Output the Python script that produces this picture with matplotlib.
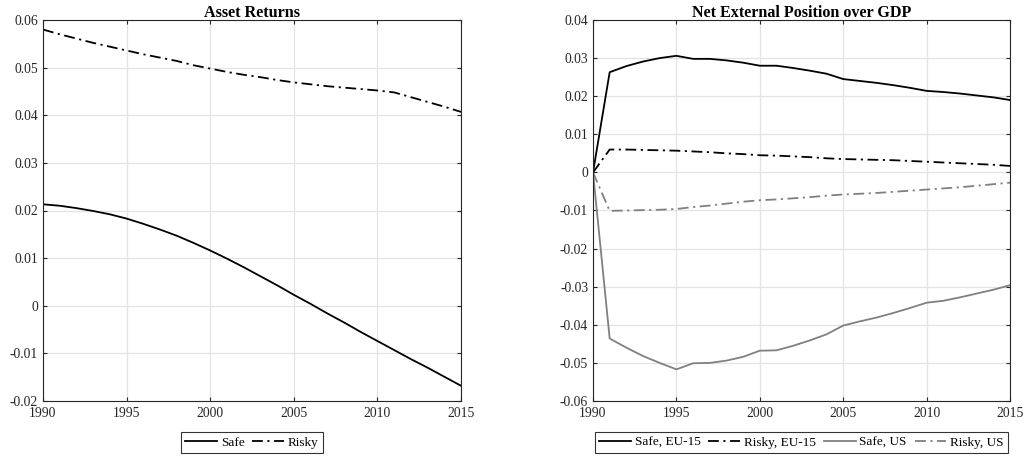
import numpy as np
import matplotlib.pyplot as plt

plt.rcParams['font.family'] = ['Liberation Serif', 'DejaVu Serif']
plt.rcParams['font.size'] = 9.5

years = np.arange(1990, 2016)

# asset returns
safe_ret = [0.0213, 0.0210, 0.0205, 0.0199, 0.0192, 0.0183, 0.0172, 0.0160, 0.0147, 0.0132,
            0.0116, 0.0099, 0.0081, 0.0062, 0.0043, 0.0023, 0.0004, -0.0016, -0.0035, -0.0055,
            -0.0074, -0.0093, -0.0112, -0.0130, -0.0149, -0.0168]
risky_ret = [0.0580, 0.0570, 0.0561, 0.0552, 0.0544, 0.0536, 0.0528, 0.0521, 0.0514, 0.0505,
             0.0498, 0.0491, 0.0485, 0.0480, 0.0474, 0.0469, 0.0465, 0.0461, 0.0458, 0.0455,
             0.0452, 0.0448, 0.0438, 0.0428, 0.0418, 0.0407]

# net external position over GDP
safe_eu = [0.0, 0.0263, 0.0279, 0.0291, 0.0300, 0.0306, 0.0298, 0.0298, 0.0294, 0.0288,
           0.0280, 0.0280, 0.0274, 0.0267, 0.0259, 0.0245, 0.0240, 0.0235, 0.0229, 0.0222,
           0.0214, 0.0211, 0.0207, 0.0202, 0.0197, 0.0190]
risky_eu = [0.0, 0.0060, 0.0060, 0.0059, 0.0058, 0.0057, 0.0055, 0.0053, 0.0050, 0.0048,
            0.0045, 0.0044, 0.0042, 0.0040, 0.0037, 0.0035, 0.0034, 0.0033, 0.0032, 0.0030,
            0.0028, 0.0026, 0.0024, 0.0022, 0.0020, 0.0017]
safe_us = [0.0, -0.0436, -0.0460, -0.0482, -0.0500, -0.0517, -0.0501, -0.0500, -0.0494, -0.0484,
           -0.0468, -0.0467, -0.0455, -0.0441, -0.0425, -0.0402, -0.0391, -0.0381, -0.0369, -0.0356,
           -0.0342, -0.0337, -0.0328, -0.0318, -0.0308, -0.0296]
risky_us = [0.0, -0.0101, -0.0100, -0.0099, -0.0098, -0.0096, -0.0091, -0.0087, -0.0082, -0.0077,
            -0.0073, -0.0071, -0.0068, -0.0065, -0.0061, -0.0058, -0.0056, -0.0054, -0.0051, -0.0048,
            -0.0045, -0.0042, -0.0039, -0.0035, -0.0031, -0.0027]

W, H = 1031, 459
fig = plt.figure(figsize=(W / 100, H / 100), dpi=100)
ax1 = fig.add_axes([43 / W, 1 - 401 / H, 418 / W, 381 / H])
ax2 = fig.add_axes([593 / W, 1 - 401 / H, 417 / W, 381 / H])

dashdot = (0, (6, 2.5, 1.2, 2.5))
grey = '#808080'
lw = 1.3

ax1.plot(years, safe_ret, color='k', lw=lw, label='Safe')
ax1.plot(years, risky_ret, color='k', lw=lw, ls=dashdot, label='Risky')
ax1.set_ylim(-0.02, 0.06)
ax1.set_yticks(np.arange(-0.02, 0.061, 0.01))
ax1.set_title('Asset Returns', fontweight='bold', fontsize=11.6, pad=2)

ax2.plot(years, safe_eu, color='k', lw=lw, label='Safe, EU-15')
ax2.plot(years, risky_eu, color='k', lw=lw, ls=dashdot, label='Risky, EU-15')
ax2.plot(years, safe_us, color=grey, lw=lw, label='Safe, US')
ax2.plot(years, risky_us, color=grey, lw=lw, ls=dashdot, label='Risky, US')
ax2.set_ylim(-0.06, 0.04)
ax2.set_yticks(np.arange(-0.06, 0.041, 0.01))
ax2.set_title('Net External Position over GDP', fontweight='bold', fontsize=11.6, pad=2)


def fmt(v):
    s = f'{v:.2f}'.rstrip('0').rstrip('.')
    return '0' if s in ('0', '-0') else s


for ax in (ax1, ax2):
    ax.set_xlim(1990, 2015)
    ax.set_xticks(np.arange(1990, 2016, 5))
    ax.set_yticklabels([fmt(v) for v in ax.get_yticks()])
    ax.grid(True, color='#e3e3e3', lw=0.9)
    ax.set_axisbelow(True)
    ax.tick_params(direction='in', top=True, right=True, length=3, colors='#262626',
                   labelsize=9.8)
    ax.tick_params(axis='x', pad=4)
    ax.tick_params(axis='y', pad=3.5)
    for sp in ax.spines.values():
        sp.set_color('#262626')
        sp.set_linewidth(0.8)
    leg = ax.legend(loc='center', bbox_to_anchor=(0.5, -0.109), ncol=4, frameon=True,
                    fancybox=False, edgecolor='k', handlelength=2.4, handletextpad=0.3,
                    columnspacing=0.6, borderpad=0.3, fontsize=9.5)
    leg.get_frame().set_linewidth(0.8)

fig.savefig('out.png', dpi=100)
